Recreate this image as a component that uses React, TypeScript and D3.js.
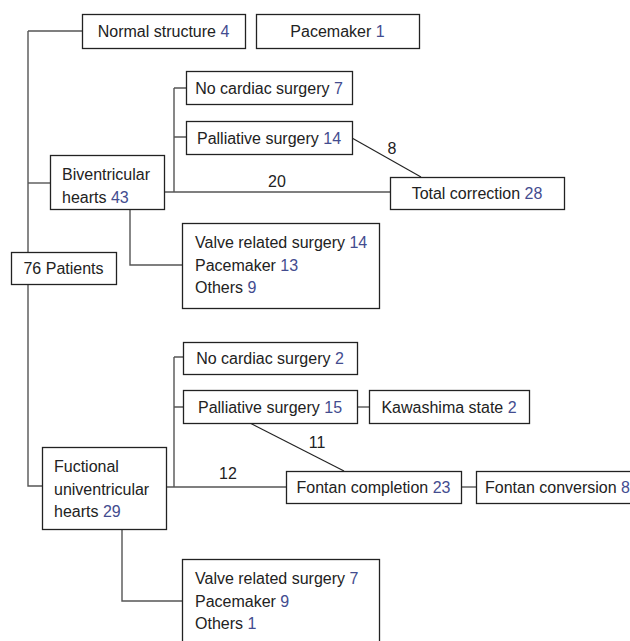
import React, { useEffect, useRef } from "react";
import * as d3 from "d3";

// node labels: each line is [text, count]
const nodeIds = [
  "normal", "pacemaker", "patients", "biv", "bivNone", "bivPall", "bivTotal", "bivOther",
  "fuc", "fucNone", "fucPall", "fucKawa", "fucFontan", "fucConv", "fucOther",
];
const nodeLines: Record<string, [string, string][]> = {
  normal: [["Normal structure", "4"]],
  pacemaker: [["Pacemaker", "1"]],
  patients: [["76 Patients", ""]],
  biv: [["Biventricular", ""], ["hearts", "43"]],
  bivNone: [["No cardiac surgery", "7"]],
  bivPall: [["Palliative surgery", "14"]],
  bivTotal: [["Total correction", "28"]],
  bivOther: [["Valve related surgery", "14"], ["Pacemaker", "13"], ["Others", "9"]],
  fuc: [["Fuctional", ""], ["univentricular", ""], ["hearts", "29"]],
  fucNone: [["No cardiac surgery", "2"]],
  fucPall: [["Palliative surgery", "15"]],
  fucKawa: [["Kawashima state", "2"]],
  fucFontan: [["Fontan completion", "23"]],
  fucConv: [["Fontan conversion", "8"]],
  fucOther: [["Valve related surgery", "7"], ["Pacemaker", "9"], ["Others", "1"]],
};
// transition counts on the arrows
const flowLabels = ["20", "8", "12", "11"];

// layout (pixels)
const layout: Record<string, { x: number; y: number; w: number; h: number; pad?: number }> = {
  normal: { x: 82, y: 14, w: 163, h: 34 },
  pacemaker: { x: 256, y: 14, w: 163, h: 34 },
  patients: { x: 11, y: 252, w: 105, h: 32 },
  biv: { x: 50, y: 155, w: 114, h: 54, pad: 12 },
  bivNone: { x: 186, y: 71, w: 166, h: 33 },
  bivPall: { x: 186, y: 121, w: 166, h: 33 },
  bivTotal: { x: 390, y: 177, w: 174, h: 32 },
  bivOther: { x: 182, y: 223, w: 197, h: 85, pad: 13 },
  fuc: { x: 42, y: 447, w: 124, h: 82, pad: 12 },
  fucNone: { x: 183, y: 342, w: 174, h: 32 },
  fucPall: { x: 183, y: 390, w: 174, h: 33 },
  fucKawa: { x: 369, y: 390, w: 160, h: 33 },
  fucFontan: { x: 286, y: 471, w: 175, h: 32 },
  fucConv: { x: 476, y: 471, w: 175, h: 32, pad: 9 },
  fucOther: { x: 182, y: 559, w: 197, h: 100, pad: 13 },
};

const connectors = [
  "M28,31H82M28,31V486H42",
  "M28,183H50",
  "M174,88V192M174,88H186M174,137H186M164,192H390",
  "M130,209V265H182",
  "M174,357V487M174,357H183M174,407H183M166,487H286",
  "M357,407H369",
  "M461,487H476",
  "M122,529V601H182",
];
const diagonals = ["M352,138L421,177", "M250,423L344,471"];
const flowPos = [
  [277, 187],
  [392, 154],
  [228, 479],
  [317, 448],
];

export default function App() {
  const ref = useRef<SVGSVGElement>(null);

  useEffect(() => {
    document.body.style.margin = "0";
    const svg = d3.select(ref.current);
    svg.selectAll("*").remove();
    const font = "'Liberation Sans', Arial, sans-serif";
    const fs = 16;

    svg.append("g").selectAll("path").data(connectors).enter().append("path")
      .attr("d", (d) => d).attr("fill", "none").attr("stroke", "#555").attr("stroke-width", 1.4);
    svg.append("g").selectAll("path").data(diagonals).enter().append("path")
      .attr("d", (d) => d).attr("fill", "none").attr("stroke", "#222").attr("stroke-width", 1.1);

    const g = svg.append("g").selectAll("g").data(nodeIds).enter().append("g")
      .attr("transform", (id) => `translate(${layout[id].x},${layout[id].y})`);
    g.append("rect")
      .attr("x", 0.5).attr("y", 0.5)
      .attr("width", (id) => layout[id].w).attr("height", (id) => layout[id].h)
      .attr("fill", "#fff").attr("stroke", "#222").attr("stroke-width", 1.3);

    g.each(function (id) {
      const L = layout[id];
      const lines = nodeLines[id];
      const lh = 22.5;
      const multi = lines.length > 1;
      const first = multi ? 25 : L.h / 2 + 6;
      lines.forEach((ln, i) => {
        const t = d3.select(this).append("text")
          .attr("x", L.pad != null ? L.pad : L.w / 2)
          .attr("y", first + i * lh)
          .attr("text-anchor", L.pad != null ? "start" : "middle")
          .attr("font-family", font).attr("font-size", fs).attr("fill", "#222");
        t.append("tspan").text(ln[0]);
        if (ln[1]) t.append("tspan").attr("fill", "#434c8f").text(" " + ln[1]);
      });
    });

    svg.append("g").selectAll("text").data(flowLabels).enter().append("text")
      .attr("x", (_, i) => flowPos[i][0]).attr("y", (_, i) => flowPos[i][1])
      .attr("text-anchor", "middle").attr("font-family", font).attr("font-size", fs)
      .attr("fill", "#222").text((d) => d);
  }, []);

  return <svg ref={ref} width={630} height={641} style={{ display: "block", background: "#fff" }} />;
}
